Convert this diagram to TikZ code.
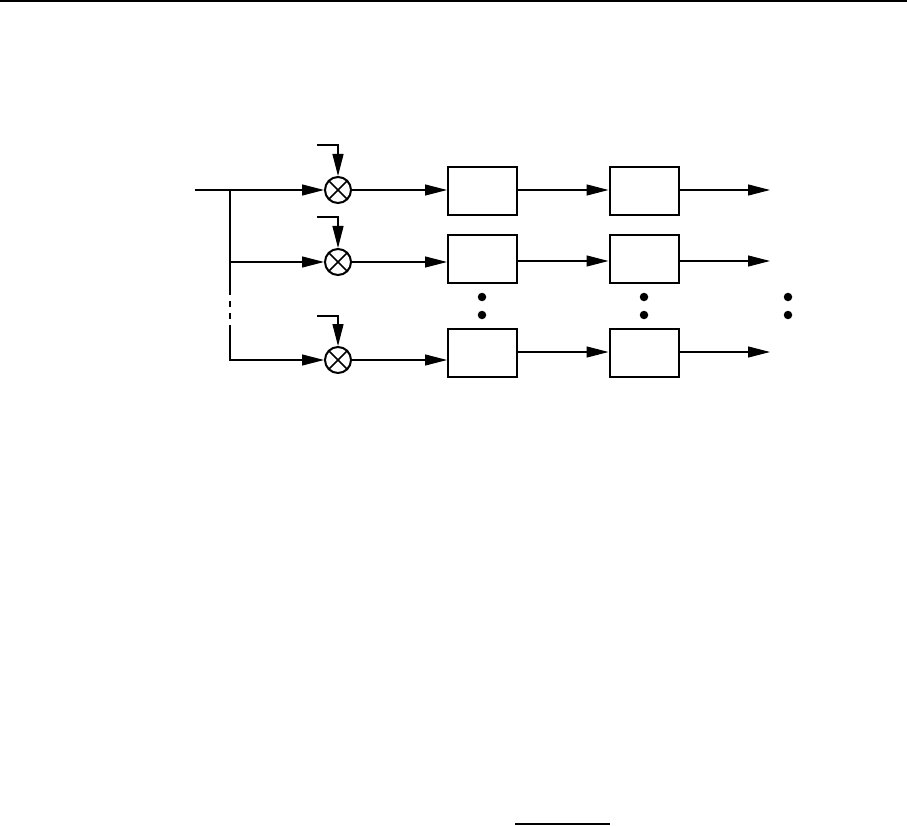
\documentclass[tikz,border=0pt]{standalone}
\usepackage{amsmath,amssymb}
\usepackage{tikz}
\usetikzlibrary{arrows.meta}

\begin{document}
\begin{tikzpicture}[x=1pt,y=-1pt,>={Triangle[length=22pt,width=11pt]},line width=1.2pt,
  mult/.style={circle,draw,line width=2pt,minimum size=26pt,inner sep=0pt,
    path picture={\draw[line width=1.7pt] (path picture bounding box.north west) -- (path picture bounding box.south east)
      (path picture bounding box.north east) -- (path picture bounding box.south west);}},
  block/.style={rectangle,draw,line width=2pt,minimum width=69pt,minimum height=48pt,inner sep=0pt},
  dot/.style={circle,fill,minimum size=8.5pt,inner sep=0pt}]
\useasboundingbox (0,0) rectangle (907,826);
\draw[line width=1.5pt] (0,0.8) -- (907,0.8);
\draw[line width=1.5pt] (515,824) -- (610,824);

\coordinate (in) at (195,190);
\coordinate (t) at (230,190);
\coordinate (d1) at (230,289);
\coordinate (d2) at (230,327);
\coordinate (c1) at (317,145);
\coordinate (c2) at (317,217);
\coordinate (c3) at (317,316);

\node[mult] (m1) at (338,190) {};
\node[mult] (m2) at (338,262) {};
\node[mult] (m3) at (338,360) {};

\node[block] (b11) at (482.5,191.5) {};
\node[block] (b12) at (644,191.5) {};
\node[block] (b21) at (482.5,259) {};
\node[block] (b22) at (644,259) {};
\node[block] (b31) at (482.5,353) {};
\node[block] (b32) at (644,353) {};

\coordinate (o1) at (770,190);
\coordinate (o2) at (770,261);
\coordinate (o3) at (770,352);

\node[dot] (p11) at (482,297) {};
\node[dot] (p12) at (482,315) {};
\node[dot] (p21) at (644,297) {};
\node[dot] (p22) at (644,315) {};
\node[dot] (p31) at (788,297) {};
\node[dot] (p32) at (788,315) {};

% splitting line
\draw[->] (in) -- (m1);
\draw[->] (t) |- (m2);
\draw (t |- m2) -- (d1);
\draw[dash pattern=on 6pt off 6pt] (d1) -- (d2);
\draw[->] (d2) |- (m3);

% second inputs of the mixers
\draw[->] (c1) -| (m1.north);
\draw[->] (c2) -| (m2.north);
\draw[->] (c3) -| (m3.north);

\path[->] (m1) edge (m1 -| b11.west)
(m2) edge (m2 -| b21.west)
(m3) edge (m3 -| b31.west)
(b11.east |- o1) edge (b12.west |- o1)
(b21.east |- o2) edge (b22.west |- o2)
(b31.east |- o3) edge (b32.west |- o3)
(b12.east |- o1) edge (o1)
(b22.east |- o2) edge (o2)
(b32.east |- o3) edge (o3);
\end{tikzpicture}
\end{document}
